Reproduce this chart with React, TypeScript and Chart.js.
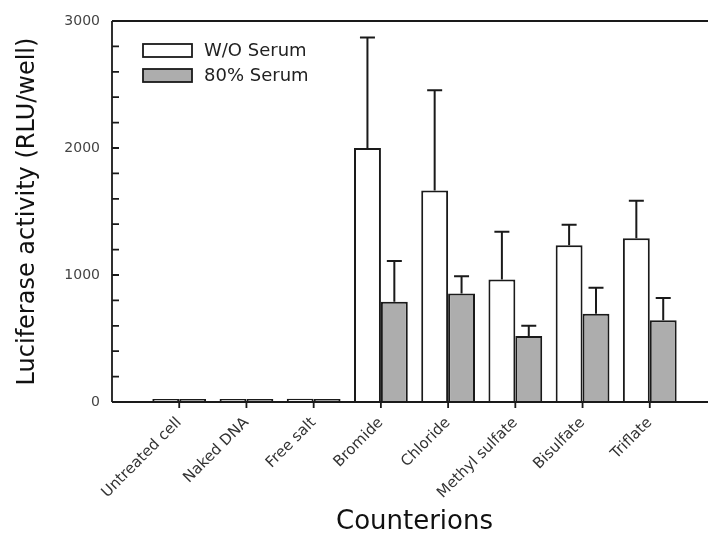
import React, { useEffect, useRef } from 'react';
import { Chart, registerables } from 'chart.js';

Chart.register(...registerables);

const categories = ['Untreated cell', 'Naked DNA', 'Free salt', 'Bromide', 'Chloride', 'Methyl sulfate', 'Bisulfate', 'Triflate'];
const woSerum = [24, 24, 26, 2000, 1665, 965, 1235, 1290];
const woSerumErr = [0, 0, 0, 870, 790, 375, 160, 295];
const serum80 = [24, 24, 24, 790, 855, 520, 695, 643];
const serum80Err = [0, 0, 0, 320, 135, 80, 205, 175];
const seriesNames = ['W/O Serum', '80% Serum'];
const seriesColors = ['#ffffff', '#adadad'];
const yMax = 3000;
const yMajorStep = 1000;
const yMinorStep = 200;

const FONT = '"DejaVu Sans", "Liberation Sans", Arial, sans-serif';
const INK = '#1a1a1a';

const errors = [woSerumErr, serum80Err];

const decorPlugin = {
  id: 'decor',
  afterDatasetsDraw(chart: any) {
    const ctx = chart.ctx;
    const y = chart.scales.y;
    ctx.save();
    ctx.strokeStyle = INK;
    ctx.lineWidth = 2;
    chart.data.datasets.forEach((ds: any, i: number) => {
      const meta = chart.getDatasetMeta(i);
      meta.data.forEach((bar: any, j: number) => {
        const v = ds.data[j];
        if (v == null) return;
        const err = errors[i][j - 1];
        if (!err) return;
        const top = y.getPixelForValue(v + err);
        ctx.beginPath();
        ctx.moveTo(bar.x, bar.y);
        ctx.lineTo(bar.x, top);
        ctx.moveTo(bar.x - 7.5, top);
        ctx.lineTo(bar.x + 7.5, top);
        ctx.stroke();
      });
    });
    ctx.restore();
  },
  afterDraw(chart: any) {
    const ctx = chart.ctx;
    const ca = chart.chartArea;
    const x = chart.scales.x;
    const y = chart.scales.y;
    ctx.save();
    ctx.strokeStyle = INK;
    ctx.lineWidth = 1.8;
    ctx.beginPath();
    ctx.moveTo(ca.left, ca.top);
    ctx.lineTo(ca.left, ca.bottom);
    ctx.moveTo(ca.left, ca.top);
    ctx.lineTo(ca.right, ca.top);
    ctx.moveTo(ca.left, ca.bottom);
    ctx.lineTo(ca.right, ca.bottom);
    ctx.moveTo(ca.right, ca.top);
    ctx.lineTo(ca.right, ca.bottom);
    ctx.stroke();
    ctx.beginPath();
    for (let v = 0; v <= yMax; v += yMinorStep) {
      const py = y.getPixelForValue(v);
      ctx.moveTo(ca.left, py);
      ctx.lineTo(ca.left + 7, py);
    }
    categories.forEach((_, k) => {
      const px = x.getPixelForValue(k + 1);
      ctx.moveTo(px, ca.bottom);
      ctx.lineTo(px, ca.bottom + 6);
    });
    ctx.stroke();
    const lx = ca.left + 31;
    const ly = ca.top + 23;
    seriesNames.forEach((name, i) => {
      const by = ly + i * 25;
      ctx.fillStyle = seriesColors[i];
      ctx.fillRect(lx, by, 49, 13);
      ctx.lineWidth = 1.8;
      ctx.strokeRect(lx, by, 49, 13);
      ctx.fillStyle = '#222';
      ctx.font = '18px ' + FONT;
      ctx.textBaseline = 'middle';
      ctx.textAlign = 'left';
      ctx.fillText(name, lx + 61, by + 7);
    });
    ctx.restore();
  },
};

export default function App() {
  const ref = useRef<HTMLCanvasElement | null>(null);
  useEffect(() => {
    if (!ref.current) return;
    const labels = ['', ...categories, ''];
    const chart = new Chart(ref.current, {
      type: 'bar',
      data: {
        labels,
        datasets: [
          {
            label: seriesNames[0],
            data: [null, ...woSerum, null],
            backgroundColor: seriesColors[0],
            borderColor: INK,
            borderWidth: 2,
            barPercentage: 1,
            categoryPercentage: 0.8,
          },
          {
            label: seriesNames[1],
            data: [null, ...serum80, null],
            backgroundColor: seriesColors[1],
            borderColor: INK,
            borderWidth: 2,
            barPercentage: 1,
            categoryPercentage: 0.8,
          },
        ],
      },
      options: {
        responsive: false,
        animation: false,
        devicePixelRatio: 1,
        layout: { padding: { left: 0, top: 21, right: 13, bottom: 0 } },
        plugins: { legend: { display: false }, tooltip: { enabled: false } },
        scales: {
          x: {
            type: 'category',
            offset: false,
            grid: { display: false, drawTicks: true, tickLength: 6, offset: false },
            border: { display: false },
            ticks: {
              autoSkip: false,
              maxRotation: 45,
              minRotation: 45,
              padding: 6,
              color: '#333',
              font: { family: FONT, size: 15 },
            },
            title: {
              display: true,
              text: 'Counterions',
              color: '#111',
              font: { family: FONT, size: 26, lineHeight: 1 },
              padding: { top: 0, bottom: 0 },
            },
            afterFit: (s: any) => {
              s.height = 133;
              s.paddingLeft = 0;
              s.paddingRight = 0;
            },
          },
          y: {
            min: 0,
            max: yMax,
            grid: { display: false, drawTicks: false },
            border: { display: false },
            ticks: {
              stepSize: yMajorStep,
              padding: 12,
              color: '#444',
              font: { family: FONT, size: 14 },
              callback: (v: any) => String(v),
            },
            title: {
              display: true,
              text: 'Luciferase activity (RLU/well)',
              color: '#111',
              font: { family: FONT, size: 24, lineHeight: 1 },
              padding: { top: 16, bottom: 0 },
            },
            afterFit: (s: any) => {
              s.width = 112;
              s.paddingTop = 0;
              s.paddingBottom = 0;
            },
          },
        },
      },
      plugins: [decorPlugin],
    } as any);
    return () => chart.destroy();
  }, []);
  return (
    <div style={{ position: 'fixed', left: 0, top: 0, width: 708, height: 535, overflow: 'hidden', background: '#fff' }}>
      <canvas ref={ref} width={730} height={535} style={{ width: 730, height: 535, display: 'block' }} />
    </div>
  );
}
